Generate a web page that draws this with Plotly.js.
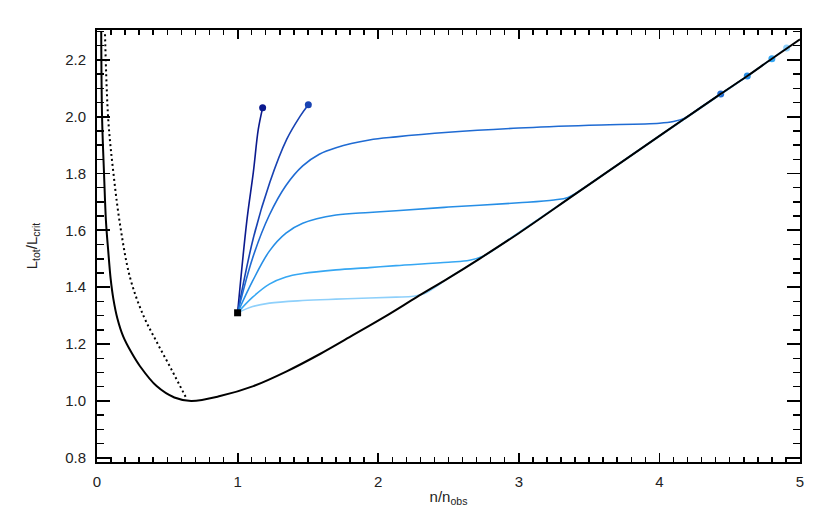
<!DOCTYPE html>
<html>
<head>
<meta charset="utf-8">
<script src="https://cdn.plot.ly/plotly-3.0.1.min.js"></script>
<style>
  html, body { margin: 0; padding: 0; background: #fff; }
  #chart { width: 830px; height: 525px; }
</style>
</head>
<body>
<div id="chart"></div>
<script>
// values

// equilibrium curve (solid black)
const eqX = [0.03, 0.036, 0.05, 0.064, 0.08, 0.097, 0.116, 0.145, 0.187, 0.245, 0.306, 0.424,
  0.55, 0.67, 0.875, 1.112, 1.349, 1.586, 1.823, 2.06, 2.274, 2.5, 2.72, 3.0, 3.388, 3.625,
  3.862, 4.17, 4.436, 4.625, 4.8, 5.0];
const eqY = [2.30, 2.0, 1.8, 1.63, 1.527, 1.43, 1.36, 1.29, 1.226, 1.17, 1.122, 1.052,
  1.012, 1.0, 1.017, 1.052, 1.104, 1.165, 1.232, 1.30, 1.365, 1.432, 1.50, 1.59, 1.723, 1.804,
  1.885, 1.99, 2.08, 2.143, 2.204, 2.272];

// dotted curve
const dotX = [0.057, 0.08, 0.116, 0.164, 0.235, 0.33, 0.424, 0.53, 0.64];
const dotY = [2.29, 1.99, 1.805, 1.62, 1.434, 1.30, 1.208, 1.11, 1.005];

// starting point (black square)
const startX = [1.0];
const startY = [1.31];

// evolution tracks, from dark to light
const trackNames = ["track 1", "track 2", "track 3", "track 4", "track 5", "track 6"];
const trackColors = ["#0b1a8e", "#1843b3", "#1f6bd3", "#268ee6", "#36a7f3", "#8ed0fb"];
const trackX = [
  [1.0, 1.065, 1.112, 1.147, 1.178],
  [1.0, 1.112, 1.23, 1.349, 1.444, 1.503],
  [1.0, 1.107, 1.226, 1.344, 1.463, 1.581, 1.70, 1.937, 2.127, 2.5, 3.0, 3.5, 4.0, 4.1, 4.18, 4.3, 4.436],
  [1.0, 1.107, 1.226, 1.344, 1.463, 1.70, 1.937, 2.127, 2.5, 3.0, 3.25, 3.35, 3.45, 3.625, 3.862, 4.17, 4.436, 4.625],
  [1.0, 1.107, 1.226, 1.344, 1.463, 1.70, 1.937, 2.127, 2.5, 2.65, 2.75, 2.9, 3.15, 3.625, 4.17, 4.625, 4.8],
  [1.0, 1.107, 1.226, 1.463, 1.70, 1.937, 2.127, 2.25, 2.33, 2.5, 2.72, 3.15, 3.862, 4.625, 4.905]
];
const trackY = [
  [1.31, 1.631, 1.805, 1.955, 2.031],
  [1.31, 1.573, 1.77, 1.92, 2.001, 2.042],
  [1.31, 1.503, 1.654, 1.758, 1.827, 1.868, 1.891, 1.918, 1.929, 1.945, 1.96, 1.97, 1.977, 1.983, 1.995, 2.035, 2.08],
  [1.31, 1.422, 1.527, 1.59, 1.625, 1.654, 1.663, 1.669, 1.682, 1.697, 1.707, 1.716, 1.745, 1.804, 1.885, 1.99, 2.08, 2.143],
  [1.31, 1.365, 1.411, 1.436, 1.448, 1.461, 1.469, 1.476, 1.488, 1.495, 1.51, 1.558, 1.642, 1.804, 1.99, 2.143, 2.204],
  [1.31, 1.332, 1.344, 1.353, 1.358, 1.362, 1.365, 1.368, 1.378, 1.432, 1.50, 1.642, 1.885, 2.143, 2.242]
];

const traces = [];

// invisible copy of the start point on the overlaid (minor tick) axes, so they get drawn
traces.push({
  x: startX, y: startY, xaxis: "x2", yaxis: "y2",
  type: "scatter", mode: "markers", marker: { opacity: 0 }, hoverinfo: "skip",
});

trackX.forEach((xs, i) => {
  traces.push({
    x: xs,
    y: trackY[i],
    type: "scatter",
    mode: "lines",
    name: trackNames[i],
    line: { color: trackColors[i], width: 1.6, shape: "spline", smoothing: 1.0 },
    hoverinfo: "x+y",
  });
  // end point dot
  traces.push({
    x: [xs[xs.length - 1]],
    y: [trackY[i][trackY[i].length - 1]],
    type: "scatter",
    mode: "markers",
    marker: { color: trackColors[i], size: 7 },
    hoverinfo: "x+y",
  });
});

traces.push({
  x: dotX,
  y: dotY,
  type: "scatter",
  mode: "lines",
  name: "dotted",
  line: { color: "#000", width: 2, dash: "2px,3px", shape: "spline", smoothing: 1.0 },
});

traces.push({
  x: eqX,
  y: eqY,
  type: "scatter",
  mode: "lines",
  name: "equilibrium",
  line: { color: "#000", width: 2, shape: "spline", smoothing: 1.0 },
});

traces.push({
  x: startX,
  y: startY,
  type: "scatter",
  mode: "markers",
  name: "start",
  marker: { symbol: "square", color: "#000", size: 7 },
});

const font = { family: "Liberation Sans, Arial, sans-serif", size: 15, color: "#222" };
const xRange = [0, 5];
const yRange = [0.785, 2.305];

// minor ticks live on overlaid axes (plain `minor` ticks came out too faint)
const minorX = {
  range: xRange, tickmode: "linear", tick0: 0, dtick: 0.1,
  ticks: "inside", ticklen: 5, tickwidth: 1.5, tickcolor: "#000",
  showticklabels: false, showline: false, showgrid: false, zeroline: false,
  mirror: "allticks", fixedrange: true,
};
const minorY = {
  range: yRange, tickmode: "linear", tick0: 0.8, dtick: 0.05,
  ticks: "inside", ticklen: 7, tickwidth: 1.5, tickcolor: "#000",
  showticklabels: false, showline: false, showgrid: false, zeroline: false,
  mirror: "allticks", fixedrange: true,
};

Plotly.newPlot("chart", traces, {
  width: 830,
  height: 525,
  margin: { l: 97, r: 30, t: 30, b: 63 },
  showlegend: false,
  paper_bgcolor: "#fff",
  plot_bgcolor: "#fff",
  font: font,
  xaxis: {
    range: xRange,
    tickmode: "linear",
    tick0: 0,
    dtick: 1,
    ticks: "inside",
    ticklen: 9,
    tickwidth: 1.8,
    tickcolor: "#000",
    ticklabelstandoff: 5,
    showline: true,
    linecolor: "#000",
    linewidth: 2,
    mirror: "allticks",
    showgrid: false,
    zeroline: false,
    title: { text: "n/n<sub>obs</sub>", font: font, standoff: 2 },
  },
  xaxis2: Object.assign({ overlaying: "x", anchor: "y2", side: "bottom" }, minorX),
  yaxis: {
    range: yRange,
    tickmode: "linear",
    tick0: 0.8,
    dtick: 0.2,
    tickformat: ".1f",
    ticks: "inside",
    ticklen: 13,
    tickwidth: 1.8,
    tickcolor: "#000",
    ticklabelstandoff: 6,
    showline: true,
    linecolor: "#000",
    linewidth: 2,
    mirror: "allticks",
    showgrid: false,
    zeroline: false,
    title: { text: "L<sub>tot</sub>/L<sub>crit</sub>", font: font, standoff: 24 },
  },
  yaxis2: Object.assign({ overlaying: "y", anchor: "x2", side: "left" }, minorY),
}, { displayModeBar: false, staticPlot: true });
</script>
</body>
</html>
